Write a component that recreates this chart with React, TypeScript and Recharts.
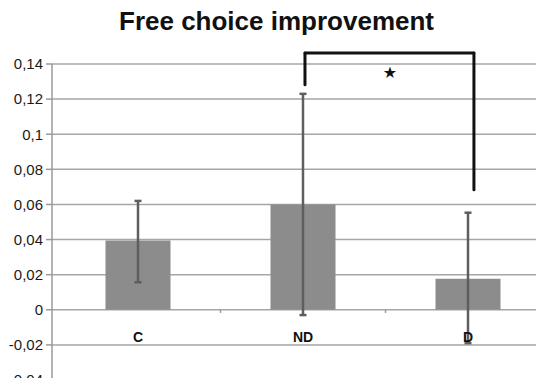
import React from 'react';
import {
  BarChart,
  Bar,
  XAxis,
  YAxis,
  CartesianGrid,
  ErrorBar,
  ReferenceLine,
  ReferenceDot,
} from 'recharts';

// ---- data ----
const categories = ['C', 'ND', 'D'];
const categoryPositions = [0.5, 1.5, 2.5]; // centre of each category on the x axis (category i spans [i, i+1])
const means = [0.0395, 0.06, 0.0177];
const errLower = [0.0238, 0.063, 0.0367];
const errUpper = [0.0225, 0.063, 0.0376];
const yTicks = [-0.04, -0.02, 0, 0.02, 0.04, 0.06, 0.08, 0.1, 0.12, 0.14];

// significance bracket
const bracketLeftX = 1.512;
const bracketRightX = 2.536;
const bracketTopY = 0.1463;
const bracketLeftEndY = 0.1282;
const bracketRightEndY = 0.0684;
const starX = 2.027;
const starY = 0.1349;
const boundaryTicks = [1, 2];
const boundaryTickDepth = -0.0018;

const data = categories.map((name, i) => ({
  name,
  pos: categoryPositions[i],
  value: means[i],
  err: [errLower[i], errUpper[i]],
}));

const FONT = '"Liberation Sans", Arial, sans-serif';

const XTick = (props: any) => {
  const { x, payload } = props;
  const idx = categoryPositions.indexOf(payload.value);
  return (
    <text
      x={x}
      y={342}
      textAnchor="middle"
      fontFamily={FONT}
      fontWeight="bold"
      fontSize={14}
      fill="#111"
    >
      {categories[idx]}
    </text>
  );
};

const Star = (props: any) => (
  <text
    x={props.cx}
    y={props.cy}
    textAnchor="middle"
    dominantBaseline="central"
    fontFamily='"DejaVu Sans", sans-serif'
    fontSize={16}
    fill="#111"
  >
    ★
  </text>
);

export default function App() {
  return (
    <div
      style={{
        position: 'relative',
        margin: '-8px',
        width: 544,
        height: 386,
        overflow: 'hidden',
        background: '#fff',
      }}
    >
      <div
        style={{
          position: 'absolute',
          left: 0,
          top: 8,
          width: 553,
          textAlign: 'center',
          fontFamily: FONT,
          fontWeight: 'bold',
          fontSize: 26,
          lineHeight: '26px',
          color: '#111',
          zIndex: 2,
        }}
      >
        Free choice improvement
      </div>
      <BarChart
        width={552}
        height={386}
        data={data}
        margin={{ top: 64, right: 1.5, bottom: 5, left: 0 }}
      >
        <CartesianGrid
          vertical={false}
          stroke="#a6a6a6"
          strokeWidth={1.5}
        />
        <XAxis
          dataKey="pos"
          type="number"
          domain={[0, 3]}
          ticks={categoryPositions}
          interval={0}
          height={1}
          axisLine={false}
          tickLine={false}
          padding={{ left: 3.5, right: 0 }}
          tick={<XTick />}
          allowDataOverflow
        />
        <YAxis
          domain={[-0.04, 0.14]}
          ticks={yTicks}
          interval={0}
          width={52}
          tickSize={6}
          tickMargin={3}
          tickFormatter={(v: number) => String(v).replace('.', ',')}
          axisLine={{ stroke: '#9a9a9a', strokeWidth: 1.5 }}
          tickLine={{ stroke: '#9a9a9a', strokeWidth: 1.5 }}
          tick={{ fill: '#1a1a1a', fontSize: 15, fontFamily: FONT }}
          allowDataOverflow
        />
        <Bar
          dataKey="value"
          fill="#8c8c8c"
          barSize={65}
          isAnimationActive={false}
        >
          <ErrorBar
            dataKey="err"
            direction="y"
            stroke="#5e5e5e"
            strokeWidth={2.5}
            width={3.5}
            isAnimationActive={false}
          />
        </Bar>
        {boundaryTicks.map((bx) => (
          <ReferenceLine
            key={bx}
            segment={[
              { x: bx, y: 0 },
              { x: bx, y: boundaryTickDepth },
            ]}
            stroke="#9a9a9a"
            strokeWidth={1.5}
            ifOverflow="visible"
          />
        ))}
        <ReferenceLine
          segment={[
            { x: bracketLeftX, y: bracketLeftEndY },
            { x: bracketLeftX, y: bracketTopY },
          ]}
          stroke="#111"
          strokeWidth={3}
          strokeLinecap="round"
          ifOverflow="visible"
        />
        <ReferenceLine
          segment={[
            { x: bracketLeftX, y: bracketTopY },
            { x: bracketRightX, y: bracketTopY },
          ]}
          stroke="#111"
          strokeWidth={3}
          strokeLinecap="round"
          ifOverflow="visible"
        />
        <ReferenceLine
          segment={[
            { x: bracketRightX, y: bracketTopY },
            { x: bracketRightX, y: bracketRightEndY },
          ]}
          stroke="#111"
          strokeWidth={3}
          strokeLinecap="round"
          ifOverflow="visible"
        />
        <ReferenceDot
          x={starX}
          y={starY}
          r={0}
          ifOverflow="visible"
          shape={<Star />}
        />
      </BarChart>
    </div>
  );
}
